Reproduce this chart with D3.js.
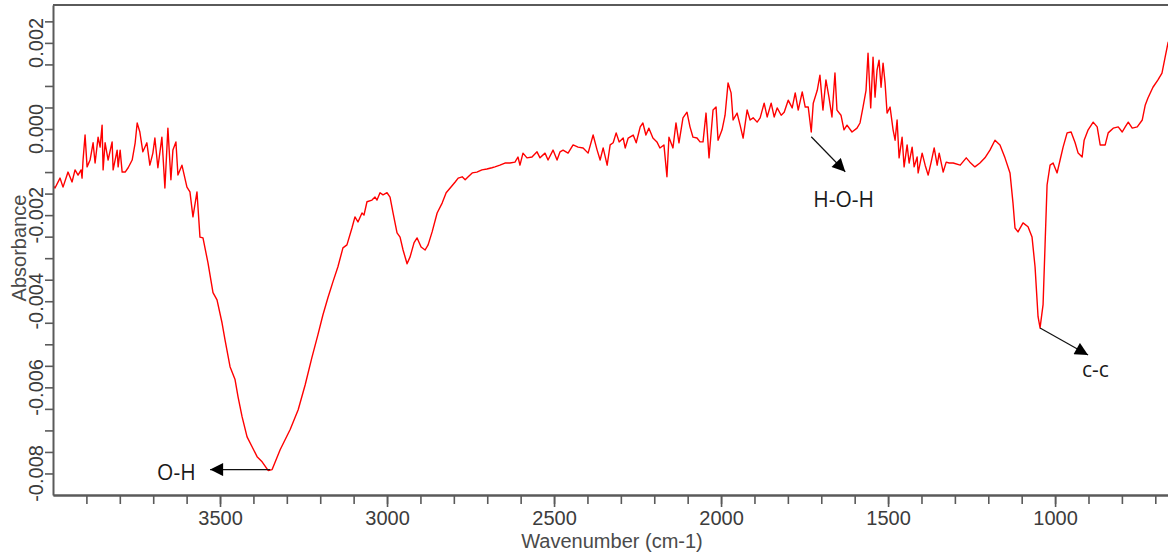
<!DOCTYPE html>
<html>
<head>
<meta charset="utf-8">
<script src="https://cdn.jsdelivr.net/npm/d3@7"></script>
<style>
  body { margin: 0; background: #fff; }
  svg { display: block; }
</style>
</head>
<body>
<div id="visualisation"></div>
<script>
// spectre IR : nombre d'onde (cm-1) et absorbance
const nombreOnde = [
  4000, 3994, 3979, 3970, 3955, 3943, 3934, 3925, 3916, 3913, 3910, 3904, 3898, 3889, 3880, 3874,
  3865, 3859, 3853, 3850, 3844, 3835, 3823, 3820, 3808, 3805, 3799, 3793, 3784, 3775, 3763, 3754,
  3748, 3740, 3731, 3719, 3710, 3701, 3695, 3686, 3674, 3665, 3656, 3647, 3641, 3632, 3626, 3614,
  3599, 3590, 3581, 3569, 3566, 3560, 3551, 3536, 3521, 3509, 3494, 3485, 3470, 3455, 3446, 3434,
  3419, 3404, 3389, 3374, 3356, 3344, 3320, 3290, 3266, 3245, 3225, 3207, 3192, 3177, 3162, 3147,
  3132, 3120, 3105, 3096, 3087, 3075, 3069, 3060, 3045, 3036, 3030, 3021, 3012, 3000, 2991, 2982,
  2970, 2961, 2952, 2940, 2931, 2919, 2910, 2898, 2886, 2877, 2865, 2850, 2835, 2823, 2811, 2796,
  2787, 2775, 2766, 2757, 2745, 2731, 2716, 2701, 2686, 2677, 2662, 2647, 2632, 2617, 2608, 2602,
  2593, 2581, 2566, 2551, 2542, 2527, 2518, 2503, 2491, 2482, 2473, 2458, 2443, 2428, 2413, 2398,
  2383, 2371, 2362, 2353, 2341, 2332, 2323, 2314, 2305, 2293, 2287, 2278, 2263, 2254, 2242, 2234,
  2225, 2216, 2204, 2192, 2183, 2171, 2162, 2156, 2144, 2135, 2126, 2114, 2102, 2093, 2084, 2072,
  2063, 2054, 2045, 2036, 2024, 2015, 2009, 1997, 1988, 1979, 1970, 1964, 1952, 1943, 1934, 1922,
  1913, 1904, 1892, 1883, 1871, 1862, 1850, 1841, 1832, 1820, 1811, 1799, 1787, 1778, 1769, 1757,
  1748, 1739, 1730, 1724, 1712, 1704, 1695, 1686, 1677, 1668, 1659, 1653, 1641, 1632, 1623, 1608,
  1593, 1584, 1575, 1566, 1560, 1552, 1545, 1539, 1533, 1527, 1521, 1515, 1509, 1503, 1494, 1485,
  1479, 1473, 1467, 1458, 1452, 1443, 1437, 1428, 1422, 1413, 1410, 1398, 1389, 1380, 1371, 1362,
  1353, 1347, 1335, 1326, 1317, 1305, 1284, 1266, 1255, 1240, 1225, 1210, 1195, 1180, 1165, 1150,
  1135, 1126, 1120, 1111, 1096, 1081, 1069, 1060, 1051, 1045, 1036, 1030, 1024, 1015, 1006, 994,
  985, 976, 964, 952, 940, 931, 919, 913, 901, 886, 874, 865, 850, 841, 826, 811,
  799, 790, 781, 769, 754, 739, 730, 722, 707, 692, 680, 671, 662, 650
];
const absorbance = [
  -0.00132, -0.00137, -0.00114, -0.00135, -0.00100, -0.00123, -0.00095, -0.00107, -0.00095, -0.00114, -0.00072, -0.00014, -0.00088, -0.00072, -0.00032, -0.00079,
  -0.00019, -0.00042, 0.00009, -0.00095, -0.00032, -0.00072, -0.00030, -0.00095, -0.00049, -0.00088, -0.00049, -0.00100, -0.00100, -0.00090, -0.00072, -0.00032,
  0.00014, -0.00007, -0.00053, -0.00032, -0.00084, -0.00056, -0.00021, -0.00090, -0.00019, -0.00137, 0.00002, -0.00118, -0.00049, -0.00030, -0.00107, -0.00084,
  -0.00135, -0.00146, -0.00204, -0.00146, -0.00181, -0.00251, -0.00253, -0.00311, -0.00380, -0.00397, -0.00450, -0.00490, -0.00552, -0.00582, -0.00622, -0.00668,
  -0.00715, -0.00738, -0.00761, -0.00773, -0.00793, -0.00791, -0.00745, -0.00698, -0.00652, -0.00594, -0.00531, -0.00478, -0.00432, -0.00392, -0.00355, -0.00320,
  -0.00276, -0.00269, -0.00230, -0.00204, -0.00216, -0.00195, -0.00200, -0.00169, -0.00165, -0.00158, -0.00165, -0.00148, -0.00153, -0.00148, -0.00158, -0.00195,
  -0.00241, -0.00251, -0.00281, -0.00313, -0.00297, -0.00264, -0.00253, -0.00274, -0.00281, -0.00269, -0.00239, -0.00195, -0.00172, -0.00148, -0.00137, -0.00123,
  -0.00114, -0.00111, -0.00118, -0.00111, -0.00102, -0.00100, -0.00095, -0.00093, -0.00090, -0.00088, -0.00084, -0.00079, -0.00079, -0.00077, -0.00065, -0.00084,
  -0.00056, -0.00067, -0.00065, -0.00053, -0.00067, -0.00056, -0.00072, -0.00049, -0.00072, -0.00053, -0.00049, -0.00056, -0.00037, -0.00042, -0.00044, -0.00056,
  -0.00014, -0.00049, -0.00072, -0.00044, -0.00084, -0.00037, -0.00032, -0.00009, -0.00030, -0.00021, -0.00044, -0.00021, -0.00014, -0.00032, 0.00005, 0.00014,
  -0.00014, 0.00002, -0.00021, -0.00030, -0.00044, -0.00037, -0.00111, -0.00019, -0.00044, 0.00014, -0.00032, 0.00026, 0.00039, 0.00005, -0.00019, -0.00021,
  -0.00030, -0.00030, 0.00037, -0.00067, 0.00044, 0.00051, -0.00026, -0.00002, 0.00032, 0.00107, 0.00084, 0.00021, 0.00037, 0.00009, -0.00021, 0.00044,
  0.00021, 0.00026, 0.00016, 0.00026, 0.00060, 0.00028, 0.00060, 0.00028, 0.00049, 0.00032, 0.00039, 0.00067, 0.00049, 0.00084, 0.00044, 0.00086,
  0.00051, 0.00051, -0.00007, 0.00060, 0.00090, 0.00125, 0.00044, 0.00114, 0.00074, 0.00028, 0.00130, 0.00044, 0.00032, -0.00002, 0.00009, -0.00007,
  0.00002, 0.00014, 0.00051, 0.00090, 0.00176, 0.00049, 0.00167, 0.00074, 0.00137, 0.00160, 0.00097, 0.00153, 0.00107, 0.00037, 0.00051, -0.00002,
  -0.00026, 0.00021, -0.00067, -0.00019, -0.00088, -0.00037, -0.00079, -0.00042, -0.00088, -0.00065, -0.00102, -0.00056, -0.00084, -0.00107, -0.00077, -0.00044,
  -0.00084, -0.00056, -0.00100, -0.00077, -0.00079, -0.00079, -0.00084, -0.00067, -0.00077, -0.00088, -0.00079, -0.00067, -0.00049, -0.00026, -0.00037, -0.00067,
  -0.00102, -0.00172, -0.00230, -0.00239, -0.00218, -0.00227, -0.00251, -0.00320, -0.00436, -0.00462, -0.00408, -0.00269, -0.00130, -0.00084, -0.00079, -0.00102,
  -0.00072, -0.00042, -0.00009, -0.00007, -0.00032, -0.00056, -0.00065, -0.00026, -0.00002, 0.00016, 0.00005, -0.00037, -0.00037, -0.00009, 0.00002, 0.00005,
  -0.00007, 0.00005, 0.00016, 0.00002, 0.00005, 0.00021, 0.00056, 0.00072, 0.00097, 0.00114, 0.00130, 0.00165, 0.00200, 0.00218
];

// graduations
const ticksX = [3500, 3000, 2500, 2000, 1500, 1000];
const ticksY = [0.002, 0.000, -0.002, -0.004, -0.006, -0.008];

// annotations des bandes : étiquette, point de départ de la flèche
const bandes = ["O-H", "H-O-H", "c-c"];
const bandesOnde = [3350, 1730, 1045];
const bandesAbs = [-0.00791, -0.00018, -0.00462];

const width = 1168;
const height = 559;
const margin = {top: 5, right: -4, bottom: 64, left: 53};

const donnees = d3.zip(nombreOnde, absorbance).map(d => ({onde: d[0], abs: d[1]}));

let caneva = d3.select("#visualisation")
  .append("svg")
    .attr("width", width)
    .attr("height", height)
    .style("font-family", "'Liberation Sans', Arial, sans-serif");

const x = d3.scaleLinear()
  .domain([4000, 650])
  .range([margin.left, width - margin.right]);

const y = d3.scaleLinear()
  .domain([-0.0085, 0.00288])
  .range([height - margin.bottom, margin.top]);

const axeCouleur = "#5a5a5a";
const texteCouleur = "#3c3c3c";

// fleches
caneva.append("defs").append("marker")
    .attr("id", "fleche")
    .attr("viewBox", "0 0 10 10")
    .attr("refX", 10)
    .attr("refY", 5)
    .attr("markerUnits", "userSpaceOnUse")
    .attr("markerWidth", 15)
    .attr("markerHeight", 13)
    .attr("orient", "auto")
  .append("path")
    .attr("d", "M0,0L10,5L0,10Z")
    .attr("fill", "#000");

caneva.append("clipPath")
    .attr("id", "zone")
  .append("rect")
    .attr("x", margin.left)
    .attr("y", margin.top)
    .attr("width", width - margin.left)
    .attr("height", y.range()[0] - margin.top);

// courbe
const ligne = d3.line()
  .x(d => x(d.onde))
  .y(d => y(d.abs));

caneva.append("path")
  .datum(donnees)
  .attr("clip-path", "url(#zone)")
  .attr("fill", "none")
  .attr("stroke", "#ff0000")
  .attr("stroke-width", 1.4)
  .attr("stroke-linejoin", "round")
  .attr("d", ligne);

// axe x : petites et grandes graduations
const basY = y.range()[0];
caneva.append("g")
  .attr("class", "axe")
  .attr("transform", "translate(0," + basY + ")")
  .call(d3.axisBottom(x).tickValues(d3.range(700, 4000, 100)).tickSize(9).tickSizeOuter(0).tickFormat(""));

caneva.append("g")
  .attr("class", "axe")
  .attr("transform", "translate(0," + basY + ")")
  .call(d3.axisBottom(x).tickValues(ticksX).tickSize(12).tickSizeOuter(0).tickPadding(4).tickFormat(d3.format("d")))
  .selectAll("text")
    .style("font-size", "20px")
    .attr("fill", texteCouleur);

// axe y
caneva.append("g")
  .attr("class", "axe")
  .attr("transform", "translate(" + margin.left + ",0)")
  .call(d3.axisLeft(y).tickValues(d3.range(-0.008, 0.00251, 0.0005)).tickSize(8).tickSizeOuter(0).tickFormat(""));

// étiquettes verticales, avec un tiret simple comme signe moins
caneva.selectAll(".etiquetteY")
  .data(ticksY)
  .enter()
  .append("text")
    .attr("class", "etiquetteY")
    .attr("transform", d => "translate(43," + y(d) + ")rotate(-90)")
    .attr("text-anchor", "middle")
    .style("font-size", "20px")
    .attr("fill", texteCouleur)
    .text(d => d.toFixed(3));

caneva.selectAll(".axe path, .axe line")
  .attr("stroke", axeCouleur);
caneva.selectAll(".axe path").attr("stroke-width", 2);
caneva.selectAll(".axe line").attr("stroke-width", 1.6);

// cadre du haut
caneva.append("line")
  .attr("x1", margin.left)
  .attr("x2", width)
  .attr("y1", margin.top)
  .attr("y2", margin.top)
  .attr("stroke", axeCouleur)
  .attr("stroke-width", 2);

// titres des axes
caneva.append("text")
  .attr("x", 612)
  .attr("y", 548)
  .attr("text-anchor", "middle")
  .style("font-size", "20px")
  .attr("fill", "#4a4a4a")
  .text("Wavenumber (cm-1)");

caneva.append("text")
  .attr("transform", "translate(26,248)rotate(-90)")
  .attr("text-anchor", "middle")
  .style("font-size", "20px")
  .attr("fill", "#4a4a4a")
  .text("Absorbance");

// annotations
const decalageFleche = [[-60, 0], [34, 35], [48, 27]];
const decalageTexte = [[-113, 10], [2, 70], [42, 49]];

bandes.forEach(function(nom, i) {
  const x0 = x(bandesOnde[i]);
  const y0 = y(bandesAbs[i]);
  caneva.append("line")
    .attr("x1", x0)
    .attr("y1", y0)
    .attr("x2", x0 + decalageFleche[i][0])
    .attr("y2", y0 + decalageFleche[i][1])
    .attr("stroke", "#111")
    .attr("stroke-width", 1.2)
    .attr("marker-end", "url(#fleche)");
  caneva.append("text")
    .attr("x", x0 + decalageTexte[i][0])
    .attr("y", y0 + decalageTexte[i][1])
    .style("font-family", "'Open Sans', sans-serif")
    .style("font-size", "21px")
    .attr("fill", "#1a1a1a")
    .text(nom);
});
</script>
</body>
</html>
